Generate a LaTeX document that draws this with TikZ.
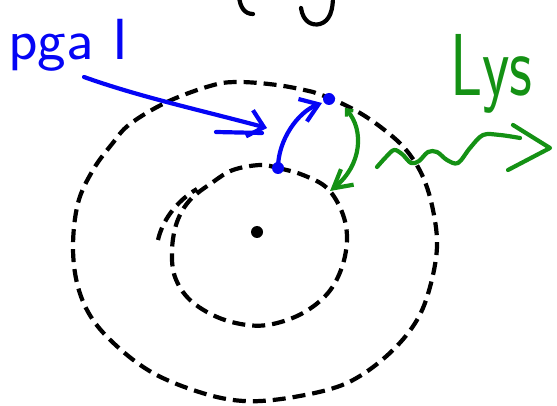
\documentclass[tikz,border=0pt]{standalone}
\usetikzlibrary{arrows.meta}
\definecolor{pblue}{RGB}{5,5,245}
\definecolor{pgreen}{RGB}{20,145,20}
\begin{document}
\begin{tikzpicture}[x=1pt,y=-1pt,
  ink/.style={line width=4.2pt, line cap=round, line join=round},
  dashring/.style={ink, black, line cap=butt, dash pattern=on 13pt off 7pt},
  bluepen/.style={ink, pblue},
  greenpen/.style={ink, pgreen},
  bluedot/.style={circle, fill=pblue, inner sep=0pt, minimum size=12pt},
  handtext/.style={font=\sffamily\fontsize{58}{60}\selectfont, inner sep=0pt}
]
\useasboundingbox (0,0) rectangle (557,406);
\clip (0,0) rectangle (557,406);

% cut-off black strokes at the top
\draw[ink, black] (239,-4) .. controls (240,8) and (245,14) .. (253,14);
\draw[ink, black] (301,8) .. controls (303,22) and (312,26) .. (320,24)
  .. controls (330,21) and (333,10) .. (333,-4);

% outer dashed ring
\draw[dashring] plot[smooth cycle, tension=0.6] coordinates {
  (130,124) (167,102) (210,86) (237,82) (277,85) (313,92) (330,98) (360,113)
  (387,132) (407,151) (423,177) (433,210) (437,247) (430,287) (417,320)
  (393,350) (360,376) (327,390) (273,400) (233,400) (193,390) (153,373)
  (120,349) (93,320) (78,287) (73,247) (78,203) (93,170) (112,144)};

% inner dashed ring
\draw[dashring] plot[smooth cycle, tension=0.6] coordinates {
  (260,165) (278,168) (303,175) (327,188) (342,212) (347,238) (342,267)
  (328,293) (303,313) (273,324) (247,325) (217,317) (190,300) (175,277)
  (172,250) (177,222) (190,200) (213,182) (233,170)};
% spiral start of the inner ring
\draw[dashring] (158,240) .. controls (162,222) and (175,202) .. (197,189);

% centre dot
\node[circle, fill=black, inner sep=0pt, minimum size=12pt] (centre) at (257,232) {};

% labels
\node[handtext, pblue, anchor=base west, xscale=1.05] (pga) at (8,60) {pga I};
\node[handtext, pgreen, anchor=base west, font=\sffamily\fontsize{88}{90}\selectfont, xscale=0.72] (lys) at (450,96) {Lys};

% blue points and arrows
\node[bluedot] (inner) at (278,168) {};
\node[bluedot] (outer) at (329,99) {};
\coordinate (pgafrom) at (84,77);
\coordinate (pgato) at (267,128);
\draw[bluepen, -{Straight Barb[length=15pt,width=27pt,line width=4.2pt]}]
  (pgafrom) .. controls (140,97) and (200,110) .. (pgato);
\draw[bluepen] (216,132) -- (262,133);
\draw[bluepen, -{Straight Barb[length=17pt,width=24pt,line width=4.2pt]}]
  (inner.center) .. controls (278,140) and (298,112) .. (322,103);

% green arrows
\coordinate (gtop) at (345,108);
\coordinate (gbot) at (330,191);
\draw[greenpen, {Straight Barb[length=5pt,width=9pt,line width=3.4pt]}-{Straight Barb[length=18pt,width=20pt,line width=4.2pt]}]
  (gtop) .. controls (364,130) and (362,165) .. (gbot);

\coordinate (wavestart) at (377,167);
\coordinate (waveend) at (520,138);
\draw[greenpen] plot[smooth, tension=0.55] coordinates {
  (wavestart) (386,157) (394,150) (402,154) (411,163) (419,161) (428,152)
  (437,152) (447,160) (458,163) (470,148) (483,135) (500,135) (waveend)};
\coordinate (wavetip) at (550,148);
\draw[greenpen] (513,125) -- (wavetip) -- (508,170);
\end{tikzpicture}
\end{document}
